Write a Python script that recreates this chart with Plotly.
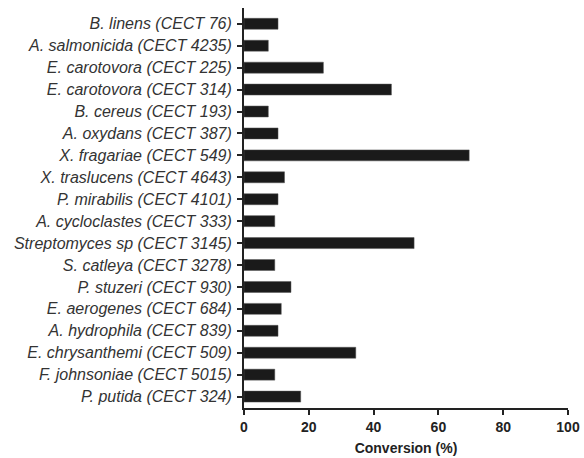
import plotly.graph_objects as go

strains = [
    "B. linens (CECT 76)",
    "A. salmonicida (CECT 4235)",
    "E. carotovora (CECT 225)",
    "E. carotovora (CECT 314)",
    "B. cereus (CECT 193)",
    "A. oxydans (CECT 387)",
    "X. fragariae (CECT 549)",
    "X. traslucens (CECT 4643)",
    "P. mirabilis (CECT 4101)",
    "A. cycloclastes (CECT 333)",
    "Streptomyces sp (CECT 3145)",
    "S. catleya (CECT 3278)",
    "P. stuzeri (CECT 930)",
    "E. aerogenes (CECT 684)",
    "A. hydrophila (CECT 839)",
    "E. chrysanthemi (CECT 509)",
    "F. johnsoniae (CECT 5015)",
    "P. putida (CECT 324)",
]
conversion = [10.5, 7.5, 24.5, 45.5, 7.5, 10.5, 69.5, 12.5, 10.5,
              9.5, 52.5, 9.5, 14.5, 11.5, 10.5, 34.5, 9.5, 17.5]
x_ticks = [0, 20, 40, 60, 80, 100]

fig = go.Figure(go.Bar(
    x=conversion,
    y=strains,
    orientation="h",
    width=0.5,
    marker=dict(color="#1a1a1a", line=dict(color="#555555", width=0.5)),
))

fig.update_layout(
    width=584, height=458,
    margin=dict(l=244, r=16, t=8, b=50, autoexpand=False),
    paper_bgcolor="white", plot_bgcolor="white",
    showlegend=False,
)
fig.update_xaxes(
    range=[0, 100],
    tickvals=x_ticks,
    ticks="outside", ticklen=5, tickwidth=2, tickcolor="#222",
    showline=True, linewidth=2, linecolor="#222",
    showgrid=False, zeroline=False,
    tickfont=dict(family="Liberation Sans, Arial", size=14, color="#222", weight="bold"),
    title=dict(text="Conversion (%)", standoff=9,
               font=dict(family="Liberation Sans, Arial", size=14, color="#222", weight="bold")),
)
fig.update_yaxes(
    type="category",
    categoryorder="array", categoryarray=strains,
    range=[17.52, -0.72],
    ticks="outside", ticklen=5, tickwidth=1.5, tickcolor="#222",
    showline=True, linewidth=2, linecolor="#222",
    showgrid=False, zeroline=False,
    tickfont=dict(family="Liberation Sans, Arial", size=16, color="#333", style="italic"),
    ticklabelstandoff=2,
)

fig.write_html(
    "out.html",
    config={"displayModeBar": False},
    post_script="document.body.style.margin='0';document.body.style.overflow='hidden';",
)
